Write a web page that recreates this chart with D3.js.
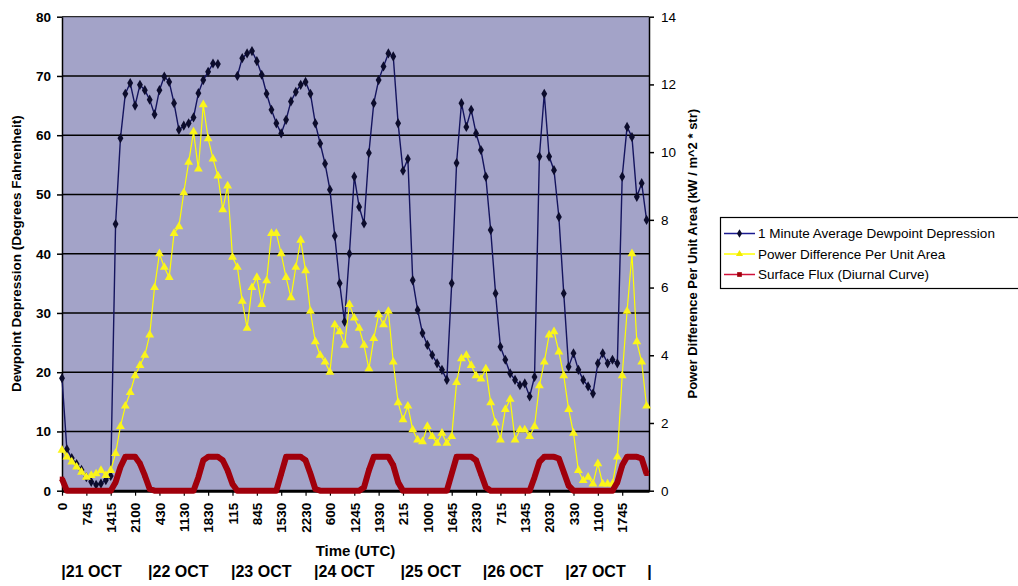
<!DOCTYPE html>
<html><head><meta charset="utf-8">
<script src="https://cdn.jsdelivr.net/npm/d3@7"></script>
<style>
html,body{margin:0;padding:0;background:#fff;}
svg{display:block;font-family:"Liberation Sans",Arial,sans-serif;}
</style></head>
<body>
<svg id="chart" width="1018" height="586"></svg>
<script>
// ---- data (one sample every 1/5 of a time-label step) ----
const samplesPerLabel = 5;
const timeLabels = ["0","745","1415","2100","430","1130","1830","115","845","1530","2230","600","1245","1930","215","1000","1645","2330","715","1345","2030","330","1100","1745"];
const dayLabels = ["|21 OCT","|22 OCT","|23 OCT","|24 OCT","|25 OCT","|26 OCT","|27 OCT","|"];
const dayStarts = [0.27,18.07,35.1,52.15,69.9,86.8,103.7,120.55];
const leftTicks = [0,10,20,30,40,50,60,70,80];
const rightTicks = [0,2,4,6,8,10,12,14];

const dewpoint = [19,7,5.5,4.5,3.5,2.3,1.5,1.0,1.2,1.8,
2.5,45,59.5,67,68.8,65,68.5,67.6,66,63.5,
67.6,69.9,69,65.4,60.9,61.6,62,63,67.1,69.3,
70.7,72.1,72,null,null,null,70,73,73.8,74.2,
72.5,70.2,67,64.3,62,60.3,62.6,65.7,67.3,68.5,
69,67,62,58.6,55.2,50.8,43,35,28.5,40,
53,47.9,45.1,57,65.4,69.3,71.6,73.8,73.3,62,
54,56,35.5,30.5,26.6,24.6,22.9,21.5,20.4,18.7,
35,55.3,65.4,61.4,64.3,60.3,57.5,53,44,33.3,
24.3,22.1,19.8,18.7,17.8,18.1,15.9,19.2,56.4,67,
56.4,54.1,46.2,33.3,20.9,23.2,20.4,18.7,17.6,16.4,
21.5,23.2,21.5,22.1,21.5,53,61.4,59.7,49.6,51.9,
45.7];

const power = [1.2,1.0,0.85,0.7,0.55,0.4,0.45,0.5,0.6,0.45,
0.6,1.1,1.9,2.5,2.9,3.4,3.7,4.0,4.6,6.0,
7.0,6.6,6.3,7.6,7.8,8.8,9.7,10.6,9.5,11.4,
10.4,9.8,9.3,8.3,9.0,6.9,6.6,5.6,4.8,6.0,
6.3,5.5,6.2,7.6,7.6,7.0,6.3,5.7,6.6,7.4,
6.5,5.3,4.4,4.0,3.8,3.5,4.9,4.7,4.3,5.5,
5.1,4.8,4.3,3.6,4.5,5.2,4.9,5.3,3.8,2.6,
2.1,2.5,1.8,1.5,1.45,1.9,1.6,1.4,1.7,1.4,
1.6,3.2,3.9,4.0,3.7,3.4,3.3,3.6,2.6,2.0,
1.5,2.4,2.7,1.5,1.8,1.8,1.6,1.9,3.1,3.8,
4.6,4.7,4.1,3.4,2.4,1.7,0.6,0.3,0.4,0.2,
0.8,0.2,0.2,0.2,1.0,3.4,5.3,7.0,4.4,3.8,
2.5];

const flux = [0.35,0,0,0,0,0,0,0,0,0,
0,0.25,0.7,1,1,1,0.8,0.45,0.05,0,
0,0,0,0,0,0,0,0,0.4,0.9,
1,1,1,0.9,0.6,0.2,0,0,0,0,
0,0,0,0,0,0.5,1,1,1,1,
0.9,0.5,0.05,0,0,0,0,0,0,0,
0,0,0.1,0.6,1,1,1,1,0.75,0.25,
0,0,0,0,0,0,0,0,0,0,
0.5,1,1,1,1,0.9,0.5,0.1,0,0,
0,0,0,0,0,0,0,0.4,0.85,1,
1,1,0.95,0.55,0.15,0,0,0,0,0,
0,0,0,0,0.25,0.75,1,1,1,0.95,
0.5];

const seriesNames = ["1 Minute Average Dewpoint Depression","Power Difference Per Unit Area","Surface Flux (Diurnal Curve)"];

// ---- layout ----
const svg = d3.select("#chart");
const L = 62, R = 649, T = 16.7, B = 490.7;
const x = d3.scaleLinear().domain([0, 120.5]).range([L, R]);
const yL = d3.scaleLinear().domain([0, 80]).range([B, T]);
const yR = d3.scaleLinear().domain([0, 14]).range([B, T]);

svg.append("rect").attr("width",1018).attr("height",586).attr("fill","#fff");
svg.append("rect").attr("x",L).attr("y",T).attr("width",R-L).attr("height",B-T).attr("fill","#a3a3c8");

// gridlines
svg.append("g").selectAll("line").data(leftTicks.filter(d=>d>0)).join("line")
  .attr("x1",L).attr("x2",R).attr("y1",d=>yL(d)).attr("y2",d=>yL(d))
  .attr("stroke","#000").attr("stroke-width",d=>d===80?1:1.6);

// left axis
const gL = svg.append("g").attr("transform",`translate(${L},0)`)
  .call(d3.axisLeft(yL).tickValues(leftTicks).tickSize(5).tickSizeOuter(0).tickPadding(6));
gL.select(".domain").attr("stroke","#000").attr("stroke-width",1.5);
gL.selectAll(".tick line").attr("stroke","#000").attr("stroke-width",1.5);
gL.selectAll("text").attr("font-size",13.5).attr("font-weight","bold").attr("fill","#000")
  .attr("font-family","Liberation Sans, Arial, sans-serif");

// right axis
const gR = svg.append("g").attr("transform",`translate(${R},0)`)
  .call(d3.axisRight(yR).tickValues(rightTicks).tickSize(5).tickSizeOuter(0).tickPadding(7));
gR.select(".domain").attr("stroke","#000").attr("stroke-width",1.5);
gR.selectAll(".tick line").attr("stroke","#000").attr("stroke-width",1.5);
gR.selectAll("text").attr("font-size",13.5).attr("fill","#000")
  .attr("font-family","Liberation Sans, Arial, sans-serif");

// bottom axis
const gB = svg.append("g").attr("transform",`translate(0,${B})`)
  .call(d3.axisBottom(x).tickValues(timeLabels.map((_,i)=>i*samplesPerLabel))
    .tickFormat((d,i)=>timeLabels[i]).tickSize(5).tickSizeOuter(0));
gB.select(".domain").attr("stroke","#000").attr("stroke-width",3);
gB.selectAll(".tick line").attr("stroke","#000").attr("stroke-width",1.2);
gB.selectAll("text").attr("font-size",13.5).attr("font-weight","bold").attr("fill","#000")
  .attr("font-family","Liberation Sans, Arial, sans-serif")
  .attr("transform","rotate(-90)").attr("text-anchor","end")
  .attr("x",-12).attr("y",0).attr("dy","0.35em");

// series: dewpoint
const lineL = d3.line().defined(d=>d!=null).x((d,i)=>x(i)).y(d=>yL(d));
svg.append("path").datum(dewpoint).attr("d",lineL).attr("fill","none")
  .attr("stroke","#14145e").attr("stroke-width",1.4);
svg.append("g").selectAll("path").data(dewpoint.map((v,i)=>({v,i})).filter(d=>d.v!=null)).join("path")
  .attr("d",d3.symbol(d3.symbolDiamond,30))
  .attr("transform",d=>`translate(${x(d.i)},${yL(d.v)})`)
  .attr("fill","#0c0c2c");

// series: power
const lineR = d3.line().x((d,i)=>x(i)).y(d=>yR(d));
svg.append("path").datum(power).attr("d",lineR).attr("fill","none")
  .attr("stroke","#ffff00").attr("stroke-width",1.2);
svg.append("g").selectAll("path").data(power.map((v,i)=>({v,i}))).join("path")
  .attr("d",d3.symbol(d3.symbolTriangle,34))
  .attr("transform",d=>`translate(${x(d.i)},${yR(d.v)})`)
  .attr("fill","#fbf51a");

// series: flux
svg.append("path").datum(flux).attr("d",lineR).attr("fill","none")
  .attr("stroke","#a0000c").attr("stroke-width",6).attr("stroke-linejoin","round");
svg.append("g").selectAll("path").data(flux.map((v,i)=>({v,i}))).join("path")
  .attr("d",d3.symbol(d3.symbolSquare,20))
  .attr("transform",d=>`translate(${x(d.i)},${yR(d.v)})`)
  .attr("fill","#a0000c");

// axis titles
svg.append("text").attr("transform",`translate(16,${(T+B)/2}) rotate(-90)`)
  .attr("text-anchor","middle").attr("dy","0.35em").attr("font-size",13.5).attr("font-weight","bold")
  .text("Dewpoint Depression (Degrees Fahrenheit)");
svg.append("text").attr("transform",`translate(692,${(T+B)/2}) rotate(-90)`)
  .attr("text-anchor","middle").attr("dy","0.35em").attr("font-size",13).attr("font-weight","bold")
  .text("Power Difference Per Unit Area (kW / m^2 * str)");
svg.append("text").attr("x",(L+R)/2).attr("y",556).attr("text-anchor","middle")
  .attr("font-size",15).attr("font-weight","bold").text("Time (UTC)");

// day labels
svg.append("g").selectAll("text").data(dayLabels).join("text")
  .attr("x",(d,i)=>x(dayStarts[i])-2).attr("y",577)
  .attr("font-size",16).attr("font-weight","bold").text(d=>d);

// legend
const lg = svg.append("g");
lg.append("rect").attr("x",720.5).attr("y",217.5).attr("width",320).attr("height",71)
  .attr("fill","#fff").attr("stroke","#000").attr("stroke-width",1.2);
const legRows = [233.5,254,274.5];
const legLine = ["#1a1a90","#ffff00","#d0103a"];
const legMark = [d3.symbolDiamond,d3.symbolTriangle,d3.symbolSquare];
const legFill = ["#0c0c2c","#f2ea00","#a0000c"];
seriesNames.forEach((n,i)=>{
  lg.append("line").attr("x1",724).attr("x2",755).attr("y1",legRows[i]).attr("y2",legRows[i])
    .attr("stroke",legLine[i]).attr("stroke-width",1.5);
  lg.append("path").attr("d",d3.symbol(legMark[i],22)).attr("transform",`translate(739.5,${legRows[i]})`)
    .attr("fill",legFill[i]);
  lg.append("text").attr("x",758).attr("y",legRows[i]).attr("dy","0.35em")
    .attr("font-size",13.5).text(n);
});
</script>
</body></html>
